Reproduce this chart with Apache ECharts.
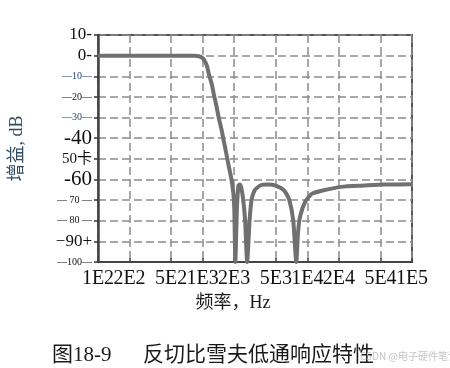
<!DOCTYPE html>
<html>
<head>
<meta charset="utf-8">
<script src="https://cdn.jsdelivr.net/npm/echarts@6/dist/echarts.min.js"></script>
<style>
html,body{margin:0;padding:0;background:#fff;}
#c{width:450px;height:368px;}
</style>
</head>
<body>
<div id="c"></div>
<script>
// Frequency (Hz) and gain (dB)
const freqHz = [100, 350, 830, 925, 986, 1030, 1099, 1147, 1224, 1277, 1362, 1422, 1517, 1585, 1690, 1766, 1884, 1967, 2007, 2052,
  2122, 2193, 2266, 2340, 2440, 2546, 2660,
  2806, 2931, 3162, 3600, 4190, 4977, 6040, 6730, 7340, 7840,
  8170, 8530, 9510, 11000, 13700, 21100, 32500, 53400, 100000];
const gainDb = [0, 0, 0, -0.3, -1, -2, -5, -9, -14, -18.6, -25, -30, -36, -41, -48, -53, -60, -67, -75, -100,
  -75, -63, -62.5, -64, -70, -80, -100,
  -80, -70, -65, -62.8, -62.5, -63, -65.5, -70, -80, -100,
  -85, -78, -71, -67, -65.5, -63.6, -63, -62.5, -62.3];

const xTickHz = [100, 200, 500, 1000, 2000, 5000, 10000, 20000, 50000, 100000];
const xTickLabels = ['1E2', '2E2', '5E2', '1E3', '2E3', '5E3', '1E4', '2E4', '5E4', '1E5'];
const yTickValues = [10, 0, -10, -20, -30, -40, -50, -60, -70, -80, -90, -100];
const yTickLabels = ['10-', '0-', '—10—', '—20—', '—30—', '-40', '50卡', '-60', '— 70 —', '— 80 —', '−90+', '—100—'];

const yLabelStyleKey = ['big', 'big', 'blue', 'small', 'blue', 'huge', 'mid', 'huge', 'small', 'small', 'big', 'tiny'];

const serif = '"Liberation Serif", "DejaVu Serif", serif';
const cjk = '"Liberation Serif", "Noto Sans CJK SC", serif';

const xTickLog = xTickHz.map(v => Math.log10(v));
const xLogEven = xTickLog.filter((v, i) => i % 2 === 0);
const xLogOdd = xTickLog.filter((v, i) => i % 2 === 1);
const seriesData = freqHz.map((f, i) => [Math.log10(f), gainDb[i]]);

function xLabel(v) {
  let best = 0, bd = Infinity;
  xTickLog.forEach((t, i) => { const d = Math.abs(t - v); if (d < bd) { bd = d; best = i; } });
  return xTickLabels[best];
}
function yLabel(v) {
  const i = yTickValues.findIndex(t => Math.abs(t - v) < 1e-6);
  if (i < 0) return '';
  return '{' + yLabelStyleKey[i] + '|' + yTickLabels[i] + '}';
}

const GRID_TOP = 35, GRID_BOTTOM = 106, H = 368;
const plotH = H - GRID_TOP - GRID_BOTTOM;

const xLabelStyle = {formatter: xLabel, margin: 7, fontFamily: serif, fontSize: 20, color: '#111',
  hideOverlap: false, showMinLabel: true, showMaxLabel: true};

const chart = echarts.init(document.getElementById('c'), null, {renderer: 'canvas'});
chart.setOption({
  animation: false,
  backgroundColor: '#ffffff',
  title: [
    {
      text: '图18-9      反切比雪夫低通响应特性',
      left: 47, top: 340,
      textStyle: {fontFamily: cjk, fontSize: 21, fontWeight: 'normal', color: '#1a1a1a'}
    },
    {
      text: 'CSDN @电子硬件笔记',
      left: 355, top: 346,
      textStyle: {fontFamily: '"Noto Sans CJK SC", sans-serif', fontSize: 10, fontWeight: 'normal', color: '#c4c4c4'}
    }
  ],
  grid: {
    left: 92, right: 38, top: GRID_TOP, bottom: GRID_BOTTOM,
    show: true, borderColor: '#555', borderWidth: 2, backgroundColor: 'transparent'
  },
  xAxis: [{
    type: 'value', min: 2, max: 5, position: 'bottom',
    name: '频率，Hz', nameLocation: 'middle', nameGap: 32,
    nameTextStyle: {fontFamily: cjk, fontSize: 18, color: '#1a1a1a', padding: [0, 44, 0, 0]},
    axisLine: {show: true, onZero: false, lineStyle: {color: '#444', width: 2}},
    axisTick: {show: true, customValues: xTickLog, inside: true, length: 4, lineStyle: {color: '#444', width: 1.5}},
    axisLabel: Object.assign({customValues: xLogEven}, xLabelStyle),
    splitLine: {show: true, lineStyle: {color: '#8a8a8a', width: 1.5, type: [8, 4]}}
  }, {
    type: 'value', min: 2, max: 5, position: 'top', offset: -plotH,
    axisLine: {show: false, onZero: false},
    axisTick: {show: false, customValues: xLogOdd},
    axisLabel: Object.assign({customValues: xLogOdd, inside: true}, xLabelStyle),
    splitLine: {show: false}
  }],
  yAxis: {
    type: 'value', min: -100, max: 10, interval: 10,
    name: '增益, dB', nameLocation: 'middle', nameGap: 72, nameRotate: 90,
    nameTextStyle: {fontFamily: cjk, fontSize: 18, color: '#2f4d62'},
    axisLine: {show: true, onZero: false, lineStyle: {color: '#444', width: 2.5}},
    axisTick: {show: true, length: 4, lineStyle: {color: '#333', width: 1.5}},
    axisLabel: {
      margin: 6, formatter: yLabel, showMinLabel: true, showMaxLabel: true,
      rich: {
        big: {fontFamily: serif, fontSize: 17, color: '#111'},
        huge: {fontFamily: serif, fontSize: 21, color: '#111'},
        mid: {fontFamily: cjk, fontSize: 15, color: '#111'},
        blue: {fontFamily: serif, fontSize: 10, color: '#1f3f6a'},
        small: {fontFamily: serif, fontSize: 10, color: '#111'},
        tiny: {fontFamily: serif, fontSize: 10, color: '#111'}
      }
    },
    splitLine: {show: true, lineStyle: {color: '#8a8a8a', width: 1.5, type: [8, 4]}}
  },
  series: [{
    type: 'line',
    xAxisIndex: 0,
    data: seriesData,
    showSymbol: false,
    smooth: 0.2,
    clip: true,
    lineStyle: {color: '#707070', width: 4},
    z: 3
  }]
});
</script>
</body>
</html>
